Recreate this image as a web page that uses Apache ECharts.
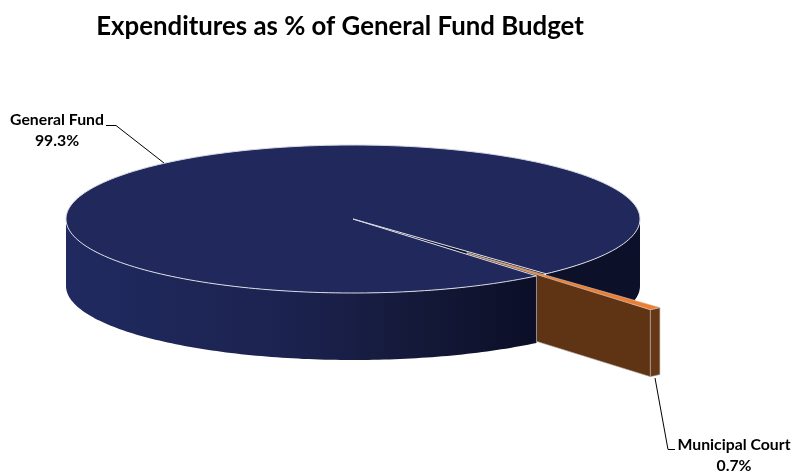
<!DOCTYPE html>
<html>
<head>
<meta charset="utf-8">
<style>html,body{margin:0;padding:0;background:#fff}#chart{width:793px;height:476px}</style>
<script src="https://cdn.jsdelivr.net/npm/echarts@6/dist/echarts.min.js"></script>
</head>
<body>
<div id="chart"></div>
<script>
// Budget shares, in percent
const sliceNames = ['General Fund', 'Municipal Court'];
const sliceValues = [99.3, 0.7];
const chartTitle = 'Expenditures as % of General Fund Budget';

// Pie geometry: a tilted disc drawn as an ellipse with a wall below it
const CX = 353, CY = 219, RX = 287, RY = 74, DEPTH = 67;
const SMALL_MID_DEG = 49;   // middle of the pulled-out slice, clockwise from east
const EXPLODE = 0.605;      // pull-out distance as a fraction of the radius

const total = sliceValues.reduce((a, b) => a + b, 0);
const smallSpan = sliceValues[1] / total * 360;
const bigSpan = sliceValues[0] / total * 360;
const smallStart = SMALL_MID_DEG - smallSpan / 2;
const smallEnd = SMALL_MID_DEG + smallSpan / 2;
const bigStart = smallEnd;
const bigEnd = bigStart + bigSpan;

const rad = d => d * Math.PI / 180;
function rim(deg, ox, oy, dz) {
  return [ox + RX * Math.cos(rad(deg)), oy + RY * Math.sin(rad(deg)) + (dz || 0)];
}
function arc(from, to, ox, oy, dz, steps) {
  const pts = [];
  for (let i = 0; i <= steps; i++) pts.push(rim(from + (to - from) * i / steps, ox, oy, dz));
  return pts;
}
function wall(from, to, ox, oy, steps) {
  return arc(from, to, ox, oy, 0, steps).concat(arc(to, from, ox, oy, DEPTH, steps));
}

const EDGE = '#d8dae4';
const poly = (points, style, z2) => ({ type: 'polygon', shape: { points }, style, z2, silent: true });
const line = (points, stroke, z2) => ({
  type: 'polyline', shape: { points }, style: { stroke, lineWidth: 1, fill: null }, z2, silent: true
});
const label = (x, y, name, value) => ({
  type: 'text', z2: 20, silent: true,
  style: {
    x, y, text: name + '\n' + value.toFixed(1) + '%', align: 'center', verticalAlign: 'middle',
    font: 'bold 15.8px Lato', lineHeight: 21, fill: '#000'
  }
});

function drawGeneralFund(value) {
  const frontWall = {
    type: 'linear', x: CX - RX, y: 0, x2: rim(bigStart, CX, CY)[0], y2: 0, global: true,
    colorStops: [
      { offset: 0, color: '#202a60' },
      { offset: 0.45, color: '#1c2350' },
      { offset: 0.75, color: '#141939' },
      { offset: 1, color: '#0b0e26' }
    ]
  };
  const inner = rim(bigStart, CX, CY);
  return [
    // gap interior, seen between the two cut edges
    poly([[CX, CY], rim(smallStart, CX, CY), rim(smallEnd, CX, CY)], { fill: '#0c0f28' }, 1),
    // wall behind the pulled-out slice
    poly(wall(360, bigEnd, CX, CY, 40), { fill: '#0c1029' }, 2),
    // wall in front of the viewer
    poly(wall(bigStart, 180, CX, CY, 120), { fill: frontWall }, 6),
    line([inner, [inner[0], inner[1] + DEPTH]], '#8d8f9c', 7),
    // top face
    poly([[CX, CY]].concat(arc(bigStart, bigEnd, CX, CY, 0, 240)),
      { fill: '#21295c', stroke: EDGE, lineWidth: 1, lineJoin: 'round' }, 8),
    label(57, 130.5, sliceNames[0], value),
    line([[106, 125.5], [116, 125.5], [164, 163]], '#000', 20)
  ];
}

function drawMunicipalCourt(value) {
  const ox = CX + RX * EXPLODE * Math.cos(rad(SMALL_MID_DEG));
  const oy = CY + RY * EXPLODE * Math.sin(rad(SMALL_MID_DEG));
  const outerA = rim(smallEnd, ox, oy);
  return [
    // cut face running back towards the centre
    poly([[ox, oy], outerA, [outerA[0], outerA[1] + DEPTH], [ox, oy + DEPTH]],
      { fill: '#5f3415', stroke: '#b9b3ad', lineWidth: 0.6 }, 4),
    // outer curved face
    poly(wall(smallStart, smallEnd, ox, oy, 6), { fill: '#663816', stroke: '#b9b3ad', lineWidth: 0.6 }, 5),
    // top face
    poly([[ox, oy]].concat(arc(smallStart, smallEnd, ox, oy, 0, 6)),
      { fill: '#ed7d31', stroke: '#d9c4b4', lineWidth: 0.6 }, 9),
    label(734, 455, sliceNames[1], value),
    line([[655, 378], [668, 449.5], [675, 449.5]], '#000', 20)
  ];
}

const chart = echarts.init(document.getElementById('chart'), null, { renderer: 'canvas' });
chart.setOption({
  animation: false,
  backgroundColor: '#fff',
  title: {
    text: chartTitle, left: 335, top: 9, textAlign: 'center',
    textStyle: { fontFamily: 'Lato', fontWeight: 'bold', fontSize: 25.8, color: '#000' }
  },
  series: [{
    type: 'custom',
    coordinateSystem: 'none',
    silent: true,
    data: sliceValues.map((v, i) => ({ name: sliceNames[i], value: v })),
    renderItem(params, api) {
      const value = api.value(0);
      return {
        type: 'group',
        children: params.dataIndex === 0 ? drawGeneralFund(value) : drawMunicipalCourt(value)
      };
    }
  }]
});
</script>
</body>
</html>
